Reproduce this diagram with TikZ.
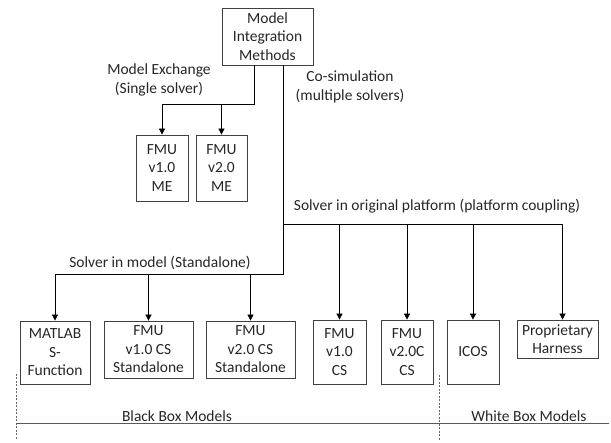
\documentclass[tikz,border=0pt]{standalone}
\usepackage{fontspec}
\setmainfont{Carlito}
\usepackage{tikz}
\usetikzlibrary{arrows.meta,positioning}

\begin{document}
\begin{tikzpicture}[x=1pt,y=-1pt,>={Triangle[length=6pt,width=6pt]},
	every node/.style={font=\fontsize{15.5}{18.5}\selectfont,text=black!85},
	box/.style={draw=black!75,line width=0.8pt,align=center,inner sep=1pt},
	link/.style={->,line width=0.8pt},
	split/.style={draw=black!60,dashed,dash pattern=on 2pt off 1.5pt,line width=0.6pt},
	label/.style={align=center,inner sep=0pt}]
\useasboundingbox (0,0) rectangle (611,443);

% boxes
\node[box,minimum width=91pt,minimum height=57pt] (top) at (267.5,36.5) {Model\\Integration\\Methods};
\node[box,minimum width=52pt,minimum height=66pt] (me1) at (162,168) {FMU\\v1.0\\ME};
\node[box,minimum width=51pt,minimum height=66pt] (me2) at (221.5,168) {FMU\\v2.0\\ME};
\node[box,minimum width=70pt,minimum height=63pt] (matlab) at (55,352.5) {MATLAB\\S-\\Function};
\node[box,minimum width=89pt,minimum height=57pt] (sa1) at (148.5,349.5) {FMU\\v1.0 CS\\Standalone};
\node[box,minimum width=89pt,minimum height=57pt] (sa2) at (250.5,349.5) {FMU\\v2.0 CS\\Standalone};
\node[box,minimum width=53pt,minimum height=64pt] (cs1) at (339.5,352) {FMU\\v1.0\\CS};
\node[box,minimum width=52pt,minimum height=64pt] (cs2) at (407,352) {FMU\\v2.0C\\CS};
\node[box,minimum width=52pt,minimum height=64pt] (icos) at (473,352) {ICOS};
\node[box,minimum width=81pt,minimum height=38pt] (harness) at (557.5,339) {Proprietary\\Harness};

% junctions
\coordinate (mej) at (254,104);
\coordinate (pcj) at (283,224);
\coordinate (saj) at (283,274);

% model exchange
\draw[link] (top.south -| mej) -- (mej) -| (me1.north);
\draw[link] (mej -| me2) -- (me2.north);

% co-simulation
\draw[link] (top.south -| saj) -- (saj) -| (matlab.north);
\draw[link] (saj -| sa1) -- (sa1.north);
\draw[link] (saj -| sa2) -- (sa2.north);
\draw[link] (pcj) -| ([xshift=5pt]harness.north);
\draw[link] (pcj -| cs1) -- (cs1.north);
\draw[link] (pcj -| cs2) -- (cs2.north);
\draw[link] (pcj -| icos) -- (icos.north);

% labels
\node[label] (melab) at (159,80) {Model Exchange\\(Single solver)};
\node[label] (cslab) at (350,87) {Co-simulation\\(multiple solvers)};
\node[label] (pclab) at (437,206) {Solver in original platform (platform coupling)};
\node[label] (salab) at (160,263) {Solver in model (Standalone)};

% black box / white box
\coordinate (bl) at (16,374);
\coordinate (wl) at (439,375);
\draw[split] (bl) -- (16,440);
\draw[split] (wl) -- (439,440);
\draw[draw=black!65,line width=0.6pt] (16,423) -- (609,423);
\node[label] (bbox) at (177,416) {Black Box Models};
\node[label] (wbox) at (529,416) {White Box Models};
\end{tikzpicture}
\end{document}
